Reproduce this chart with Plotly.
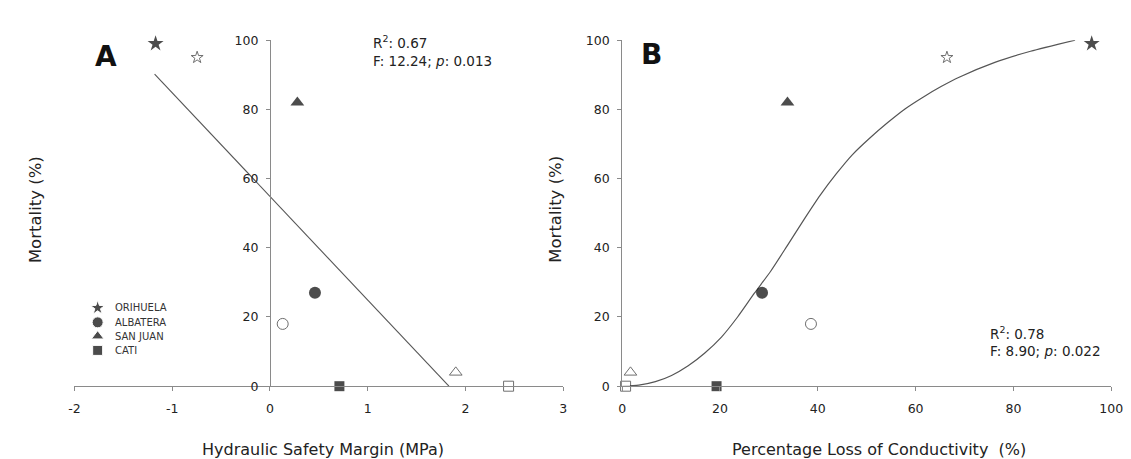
import plotly.graph_objects as go

# ---------------- data ----------------
sites = ["ORIHUELA", "ALBATERA", "SAN JUAN", "CATI"]
site_symbols = ["star", "circle", "triangle-up", "square"]

mortality_filled = [99, 27, 82, 0]
mortality_open = [95, 18, 4, 0]

hsm_filled = [-1.17, 0.46, 0.28, 0.71]
hsm_open = [-0.745, 0.13, 1.90, 2.44]

plc_filled = [96.0, 28.6, 33.8, 19.3]
plc_open = [66.4, 38.6, 1.7, 0.7]

# linear fit (panel A)
fitA_x = [-1.18, 1.83]
fitA_y = [90.2, 0.0]

# sigmoid fit (panel B)
fitB_x = [0, 3.4, 6.8, 10.1, 13.5, 16.9, 20.3, 23.6, 27.0, 30.4, 33.8, 37.2,
          40.5, 43.8, 47.0, 50.7, 54.3, 57.9, 61.6, 65.2, 68.9, 76.2, 83.5, 92.6]
fitB_y = [0, 0.3, 1.3, 3.1, 5.9, 9.6, 14.2, 20.0, 26.8, 33.3, 40.7, 48.2,
          55.2, 61.4, 66.8, 71.8, 76.2, 80.2, 83.6, 86.6, 89.3, 93.6, 96.8, 100]

xA_ticks = [-2, -1, 0, 1, 2, 3]
xA_ticktext = ["-2", "-1", "0", "1", "2", "3"]
xB_ticks = [0, 20, 40, 60, 80, 100]
y_ticks = [0, 20, 40, 60, 80, 100]

statsA = ["R<sup>2</sup>: 0.67", "F: 12.24; <i>p</i>: 0.013"]
statsB = ["R<sup>2</sup>: 0.78", "F: 8.90; <i>p</i>: 0.022"]

# ---------------- layout constants ----------------
W, H = 1131, 459
FONT = "DejaVu Sans"
AX = "#8a8a8a"
TXT = "#222222"


def px(x):
    return x / W


def py(y):
    return 1 - y / H


domA = [px(61.4), px(558.2)]
domB = [px(618.0), px(1115.0)]
domY = [py(382.7), py(25.0)]
xA_range = [-2, 3]
yA_pos = domA[0] + (0 - xA_range[0]) / (xA_range[1] - xA_range[0]) * (domA[1] - domA[0])

fig = go.Figure()

open_sizes = [9, 11, 11, 10]
filled_sizes = [12, 12, 12, 10]


def add_points(xs_f, xs_o, xa, ya):
    fig.add_trace(go.Scatter(
        x=xs_f, y=mortality_filled, mode="markers", xaxis=xa, yaxis=ya,
        marker=dict(symbol=site_symbols, size=filled_sizes, color="#000000",
                    line=dict(width=0)),
        cliponaxis=False, showlegend=False, hoverinfo="skip"))
    fig.add_trace(go.Scatter(
        x=xs_o, y=mortality_open, mode="markers", xaxis=xa, yaxis=ya,
        marker=dict(symbol=site_symbols, size=open_sizes, color="white",
                    line=dict(width=1, color="#333333")),
        cliponaxis=False, showlegend=False, hoverinfo="skip"))


# Panel A fit line
fig.add_trace(go.Scatter(x=fitA_x, y=fitA_y, mode="lines", xaxis="x", yaxis="y",
                         line=dict(color="#555555", width=1.1),
                         cliponaxis=False, showlegend=False, hoverinfo="skip"))
add_points(hsm_filled, hsm_open, "x", "y")

# Panel B fit curve
fig.add_trace(go.Scatter(x=fitB_x, y=fitB_y, mode="lines", xaxis="x2", yaxis="y2",
                         line=dict(color="#555555", width=1.2, shape="spline", smoothing=0.6),
                         cliponaxis=False, showlegend=False, hoverinfo="skip"))
add_points(plc_filled, plc_open, "x2", "y2")

# Legend keys (separate full-page axis in pixel units)
leg_x = 85
leg_y = [301.7, 316.7, 331.0, 345.7]
fig.add_trace(go.Scatter(
    x=[leg_x] * len(sites), y=leg_y, mode="markers", xaxis="x3", yaxis="y3",
    marker=dict(symbol=site_symbols, size=[11, 11, 11, 10], color="#000000"),
    cliponaxis=False, showlegend=False, hoverinfo="skip"))

axis_common = dict(showline=True, linecolor=AX, linewidth=1, ticks="outside",
                   ticklen=4, tickcolor=AX, tickwidth=1, showgrid=False,
                   zeroline=False, tickfont=dict(family=FONT, size=12.5, color=TXT))

fig.update_layout(
    width=W, height=H, margin=dict(l=0, r=0, t=0, b=0),
    paper_bgcolor="white", plot_bgcolor="rgba(0,0,0,0)", showlegend=False,
    xaxis=dict(domain=domA, range=xA_range, anchor="y", tickvals=xA_ticks,
               ticktext=xA_ticktext, ticklabelstandoff=7, **axis_common),
    yaxis=dict(domain=domY, range=[0, 100], anchor="free", position=yA_pos,
               tickvals=y_ticks, ticklabelstandoff=5, **axis_common),
    xaxis2=dict(domain=domB, range=[0, 100], anchor="y2", tickvals=xB_ticks,
                ticklabelstandoff=7, **axis_common),
    yaxis2=dict(domain=domY, range=[0, 100], anchor="x2", tickvals=y_ticks,
                ticklabelstandoff=5, **axis_common),
    xaxis3=dict(domain=[0, 1], range=[0, W], visible=False, anchor="y3"),
    yaxis3=dict(domain=[0, 1], range=[H, 0], visible=False, anchor="x3"),
)

ann = []
# axis titles
ann.append(dict(x=px(314), y=py(448), text="Hydraulic Safety Margin (MPa)",
                font=dict(family=FONT, size=16, color=TXT)))
ann.append(dict(x=px(879), y=py(448), text="Percentage Loss of Conductivity  (%)",
                font=dict(family=FONT, size=16, color=TXT)))
ann.append(dict(x=px(22), y=py(200), text="Mortality (%)", textangle=-90,
                font=dict(family=FONT, size=16.5, color=TXT)))
ann.append(dict(x=px(550), y=py(200), text="Mortality (%)", textangle=-90,
                font=dict(family=FONT, size=16.5, color=TXT)))
# panel letters
ann.append(dict(x=px(93), y=py(41.7), text="<b>A</b>",
                font=dict(family=FONT, size=28, color="#111111")))
ann.append(dict(x=px(647.4), y=py(40), text="<b>B</b>",
                font=dict(family=FONT, size=28, color="#111111")))
# stats
for i, yy in enumerate([27.2, 46.2]):
    ann.append(dict(x=px(362.7), y=py(yy), text=statsA[i], xanchor="left",
                    font=dict(family=FONT, size=13.5, color=TXT)))
for i, yy in enumerate([327.5, 346.5]):
    ann.append(dict(x=px(989.7), y=py(yy), text=statsB[i], xanchor="left",
                    font=dict(family=FONT, size=13.5, color=TXT)))
# legend labels
for name, yy in zip(sites, leg_y):
    ann.append(dict(x=px(100.7), y=py(yy), text=name, xanchor="left",
                    font=dict(family=FONT, size=10, color="#333333")))

for a in ann:
    a.setdefault("xanchor", "center")
    a.update(xref="paper", yref="paper", yanchor="middle", showarrow=False)
fig.update_layout(annotations=ann)

fig.write_html("out.html")
